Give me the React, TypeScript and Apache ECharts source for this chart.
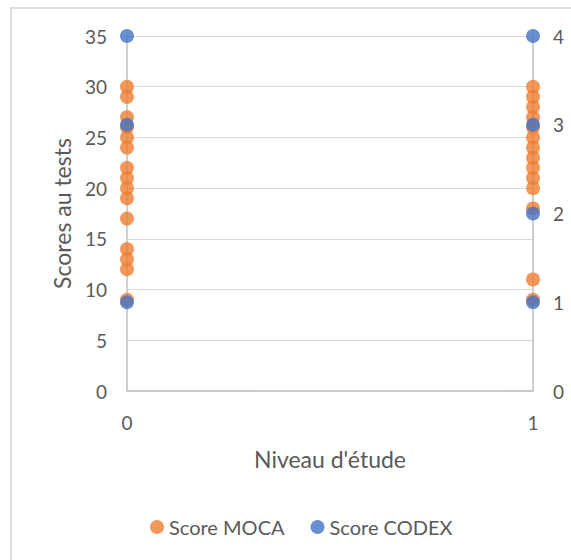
import React, { useEffect, useRef } from "react";
import * as echarts from "echarts";

// Niveau d'étude (0 / 1) with the MOCA scores of each group
const mocaLevel0: number[] = [30, 29, 27, 26, 25, 24, 22, 21, 20, 19, 17, 14, 13, 12, 9];
const mocaLevel1: number[] = [30, 29, 28, 27, 26, 25, 24, 23, 22, 21, 20, 18, 11, 9];
// CODEX scores (secondary axis, 0–4)
const codexLevel0: number[] = [4, 3, 1];
const codexLevel1: number[] = [4, 3, 2, 1];

const leftTicks = { min: 0, max: 35, interval: 5 };
const rightTicks = { min: 0, max: 4, interval: 1 };

const FONT = "Lato, 'Open Sans', sans-serif";
const TEXT = "#595959";

export default function App() {
  const ref = useRef<HTMLDivElement>(null);

  useEffect(() => {
    if (!ref.current) return;
    const chart = echarts.init(ref.current, undefined, { renderer: "svg" });

    const mocaData = [
      ...mocaLevel0.map((v) => [0, v]),
      ...mocaLevel1.map((v) => [1, v]),
    ];
    const codexData = [
      ...codexLevel0.map((v) => [0, v]),
      ...codexLevel1.map((v) => [1, v]),
    ];

    chart.setOption({
      animation: false,
      backgroundColor: "#ffffff",
      textStyle: { fontFamily: FONT },
      graphic: [
        {
          // chart-area frame; its right and bottom edges run past the canvas
          type: "rect",
          shape: { x: 11, y: 8, width: 620, height: 620 },
          style: { fill: "none", stroke: "#dedede", lineWidth: 2 },
          silent: true,
        },
      ],
      grid: { left: 127, right: 38, top: 36, bottom: 169 },
      xAxis: {
        type: "value",
        min: 0,
        max: 1,
        interval: 1,
        name: "Niveau d'étude",
        nameLocation: "middle",
        nameGap: 56,
        nameTextStyle: { color: TEXT, fontSize: 23, fontFamily: FONT },
        axisLine: { show: true, lineStyle: { color: "#bfbfbf", width: 1.5 } },
        axisTick: { show: false },
        splitLine: { show: false },
        axisLabel: { color: TEXT, fontSize: 19, margin: 22, fontFamily: FONT },
      },
      yAxis: [
        {
          type: "value",
          ...leftTicks,
          position: "left",
          name: "Scores au tests",
          nameLocation: "middle",
          nameGap: 54,
          nameTextStyle: { color: TEXT, fontSize: 23, fontFamily: FONT },
          axisLine: { show: true, lineStyle: { color: "#bfbfbf", width: 1.5 } },
          axisTick: { show: false },
          splitLine: { show: true, lineStyle: { color: "#d9d9d9", width: 1 } },
          axisLabel: { color: TEXT, fontSize: 19, margin: 20, fontFamily: FONT },
        },
        {
          type: "value",
          ...rightTicks,
          position: "right",
          axisLine: { show: true, lineStyle: { color: "#bfbfbf", width: 1.5 } },
          axisTick: { show: false },
          splitLine: { show: false },
          axisLabel: { color: TEXT, fontSize: 19, margin: 20, fontFamily: FONT },
        },
      ],
      legend: {
        bottom: 18,
        left: 145,
        itemGap: 26,
        itemWidth: 14,
        itemHeight: 14,
        icon: "circle",
        textStyle: { color: TEXT, fontSize: 20, fontFamily: FONT },
        data: ["Score MOCA", "Score CODEX"],
      },
      series: [
        {
          name: "Score MOCA",
          type: "scatter",
          yAxisIndex: 0,
          symbol: "circle",
          symbolSize: 14,
          clip: false,
          itemStyle: { color: "#ED7D31" },
          data: mocaData,
        },
        {
          name: "Score CODEX",
          type: "scatter",
          yAxisIndex: 1,
          symbol: "circle",
          symbolSize: 14,
          clip: false,
          itemStyle: { color: "#4472C4" },
          data: codexData,
        },
      ],
    });

    return () => chart.dispose();
  }, []);

  return (
    <div
      ref={ref}
      style={{ position: "fixed", left: 0, top: 0, width: 571, height: 560 }}
    />
  );
}
